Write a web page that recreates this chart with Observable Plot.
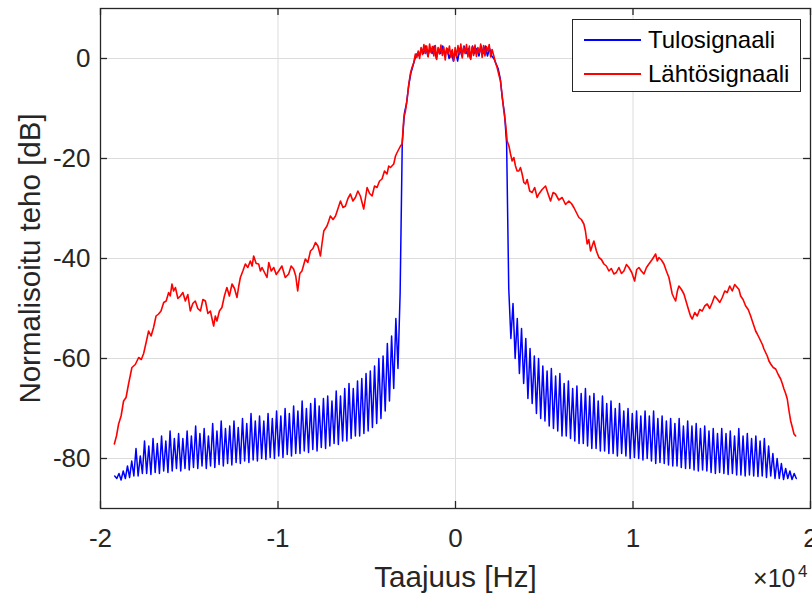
<!DOCTYPE html>
<html>
<head>
<meta charset="utf-8">
<script src="https://cdn.jsdelivr.net/npm/d3@7"></script>
<script src="https://cdn.jsdelivr.net/npm/@observablehq/plot@0.6"></script>
<style>
  body { margin: 0; background: #fff; font-family: "Liberation Sans", Arial, Helvetica, sans-serif; }
  #wrap { position: relative; width: 812px; height: 594px; overflow: hidden; background: #fff; }
  #legend { position: absolute; left: 572px; top: 19px; width: 227px; height: 71px; border: 1px solid #262626; background: #fff; }
  .lrow { position: absolute; left: 0; height: 30px; width: 100%; }
  .lline { position: absolute; left: 11px; width: 57px; top: 14px; height: 1.5px; }
  .ltext { position: absolute; left: 75px; top: 0; font-size: 24px; line-height: 30px; color: #000; white-space: nowrap; }
</style>
</head>
<body>
<div id="wrap"></div>
<script>
// ---------- DATA ----------
const seriesNames = ["Tulosignaali", "Lähtösignaali"];
const seriesColors = ["#0000ff", "#ff0000"];
const xLabel = "Taajuus [Hz]";
const yLabel = "Normalisoitu teho [dB]";
const xTicks = [-20000, -10000, 0, 10000, 20000];
const xTickLabels = ["-2", "-1", "0", "1", "2"];
const yTicks = [-80, -60, -40, -20, 0];
const yTickLabels = ["-80", "-60", "-40", "-20", "0"];
const xExponentBase = "\u00d710";
const xExponent = "4";

// Input signal (blue): FFT bins from -19200 Hz with 120 Hz spacing
const blueStartHz = -19200;
const blueStepHz = 120;
const blueDb = [
  -83.5,-84,-83,-84.3,-82.5,-84,-81.5,-83.8,-80.5,-83.5,
  -78,-83.5,-79.5,-83,-76.5,-83,-77.5,-83.2,-76,-82.8,
  -77,-83,-75.5,-82.5,-76.5,-82.8,-74.5,-82.5,-76,-82,
  -75,-82.5,-76,-82,-74.5,-82.3,-75.5,-81.8,-73.5,-82,
  -75,-81.5,-74,-82,-75.5,-81.5,-73,-81.8,-74.5,-81.2,
  -72.5,-81.5,-74,-81,-73.5,-81.3,-72.5,-80.8,-73.8,-81,
  -72,-80.5,-73,-80.8,-71,-80.3,-72.5,-80.5,-71.5,-80,
  -72.5,-80.2,-71,-79.8,-72,-80,-70.5,-79.5,-71.5,-79.8,
  -70,-79.2,-71,-79.5,-69.5,-79,-70.5,-79,-68.5,-78.5,
  -70,-78.8,-69,-78.2,-68,-78.5,-69.5,-77.8,-68,-78,
  -67.5,-77.5,-68.5,-77,-66.5,-77.2,-67.5,-76.5,-66,-76.5,
  -65,-76,-66,-75.5,-64.5,-75.5,-64,-75,-63,-74.5,
  -62.5,-73.8,-61.5,-73,-60,-72,-59.5,-70.5,-57,-68.5,
  -55.5,-66,-52,-62,-47,
  -17,-11,-9,-5.5,-3,-1.5,0,1,0.5,2,
  1,2.5,0.5,2,1,2.5,0,2,1,2.5,
  0.5,2,0,1.5,-0.5,1.5,-0.5,2,0.5,2.5,
  1,2,0,2.5,1,2,0.5,2.5,1,2.5,
  0.5,2,0.5,0,-1,-2,-4,-8,-11,-17,
  -46,-56,-49,-60,-52,-63,-54,-65,-56,-68,
  -58,-69,-59.5,-71,-60,-72,-61.5,-72.5,-62.5,-73.5,
  -62,-74,-63.5,-74.5,-63,-75.5,-65,-75.5,-64.5,-76,
  -66,-76.5,-65.5,-77,-67,-77,-66,-77.5,-67.5,-78,
  -67,-78,-68.5,-78.5,-67.5,-78.5,-69,-79,-68.5,-79,
  -70,-79.5,-69,-79,-70.5,-79.5,-70,-80,-71,-79.8,
  -70.5,-80,-71.5,-80.3,-70.5,-80,-71.5,-80.5,-70.5,-81,
  -72,-80.8,-71.5,-81,-72.5,-81.3,-72,-81.5,-73,-81.5,
  -72,-81.8,-73.5,-82,-72.5,-82,-73.5,-82.3,-73,-82.5,
  -74,-82.3,-73.5,-82.5,-74.5,-82.8,-74,-83,-75,-82.8,
  -74,-83,-75,-83.2,-74.5,-83,-75.5,-83.3,-74,-83.3,
  -75.5,-83.5,-75,-83.3,-76,-83.5,-75.5,-83.6,-76.5,-83.5,
  -76,-83.8,-77.5,-83.5,-79,-84,-80,-84,-81,-84.2,
  -82,-84,-82.5,-84.2,-83,-84
];

// Output signal (red): [frequency Hz, dB]
const redPoints = [
  [-19220,-77.1],[-19100,-75.5],[-18980,-73.1],[-18840,-71.5],[-18700,-68.5],[-18560,-67.8],
  [-18420,-65.1],[-18230,-61.8],[-18040,-61.2],[-17850,-59.8],[-17700,-60.2],[-17570,-59],
  [-17430,-56.8],[-17290,-54.5],[-17150,-55.5],[-17010,-53.8],[-16870,-51.5],[-16730,-51.1],
  [-16590,-50.5],[-16440,-48.8],[-16300,-48.5],[-16160,-46.8],[-16070,-47.5],[-15975,-45.1],
  [-15880,-46.5],[-15780,-45.8],[-15640,-48],[-15500,-47.5],[-15360,-46.8],[-15220,-48.5],
  [-15080,-47.2],[-14940,-50.5],[-14800,-49],[-14660,-48.5],[-14520,-50],[-14370,-50.5],
  [-14230,-48.2],[-14090,-48.5],[-13950,-51],[-13810,-50.5],[-13720,-52],[-13625,-53.5],
  [-13530,-51.5],[-13440,-52.5],[-13300,-50.5],[-13160,-49.8],[-13020,-47.5],[-12880,-45.8],
  [-12740,-47.5],[-12590,-45.1],[-12450,-46],[-12310,-47.8],[-12210,-45.5],[-12120,-43.8],
  [-11980,-42.5],[-11840,-41.1],[-11700,-41.8],[-11560,-40.5],[-11460,-41.5],[-11370,-39.5],
  [-11230,-41],[-11090,-41.1],[-10990,-42.5],[-10900,-41.8],[-10760,-42.8],[-10620,-43.8],
  [-10520,-40.8],[-10380,-42.5],[-10240,-41.8],[-10100,-43.2],[-9960,-42.5],[-9780,-41.5],
  [-9590,-43.8],[-9400,-43.1],[-9260,-41.5],[-9120,-42.1],[-9000,-43.5],[-8890,-46.5],
  [-8770,-43],[-8650,-42.5],[-8460,-40.1],[-8320,-40.8],[-8170,-38.5],[-8030,-38],
  [-7890,-36.8],[-7750,-37.5],[-7610,-39.5],[-7520,-37],[-7420,-34.5],[-7240,-33.5],
  [-7140,-32.5],[-7050,-31.5],[-6900,-32.2],[-6760,-31.5],[-6620,-30],[-6480,-28.5],
  [-6340,-29.8],[-6200,-29.5],[-6060,-28],[-5920,-27.1],[-5780,-28.5],[-5640,-27.8],
  [-5500,-26.5],[-5360,-27.5],[-5170,-30.1],[-4980,-25.8],[-4840,-27],[-4700,-27.5],
  [-4560,-25.5],[-4420,-25.8],[-4280,-24.5],[-4140,-24.1],[-4000,-22.5],[-3860,-23.1],
  [-3760,-21.5],[-3660,-21.8],[-3480,-21.1],[-3380,-19.5],[-3290,-18.8],[-3100,-17.5],
  [-3010,-17.1],[-2910,-11.8],[-2820,-10.5],[-2720,-8],[-2630,-5.1],[-2540,-3],
  [-2450,-1.8],[-2350,-0.8],[-2260,0.9],[-2180,0.2],[-2100,1.5],[-2020,0],
  [-1940,2.2],[-1860,0.8],[-1780,2.8],[-1700,1],[-1620,2.5],[-1540,0.3],
  [-1460,2.9],[-1380,1.2],[-1300,2.4],[-1220,0.5],[-1140,2.6],[-1060,-0.2],
  [-980,2.2],[-900,0.9],[-820,2.7],[-740,0.6],[-660,2.3],[-580,-0.3],
  [-500,2.1],[-420,1],[-340,2.5],[-260,0.2],[-180,1.8],[-100,-0.5],
  [-20,2.2],[60,0.4],[140,2.6],[220,0.8],[300,2.9],[380,0.1],
  [460,2.4],[540,1],[620,2.8],[700,0.3],[780,2.5],[860,-0.2],
  [940,2.3],[1020,0.6],[1100,2.7],[1180,0.4],[1260,2.2],[1340,1.1],
  [1420,2.9],[1500,0.2],[1580,2.6],[1660,0.5],[1740,2.4],[1820,1.5],
  [1900,2.8],[1980,0.3],[2060,1.8],[2160,0.5],[2250,-0.8],[2345,-1.8],
  [2440,-3.2],[2537,-4.5],[2630,-7.5],[2723,-10.5],[2820,-13],[2909,-16.5],
  [3010,-17.5],[3100,-19.1],[3191,-20.5],[3286,-19.8],[3380,-21.5],[3472,-22.5],
  [3568,-22.5],[3660,-21.8],[3754,-23.1],[3850,-24.8],[3946,-25.1],[4036,-24.2],
  [4180,-26.5],[4318,-26.8],[4460,-25.8],[4600,-27.8],[4696,-27.1],[4880,-26.2],
  [5073,-25.5],[5210,-27],[5355,-28.5],[5500,-26.8],[5637,-27.1],[5820,-28.3],
  [6009,-27.8],[6200,-29.2],[6387,-28.5],[6530,-29],[6669,-29.8],[6810,-30.8],
  [6950,-31.8],[7090,-32.2],[7232,-33.1],[7320,-34.5],[7418,-37.1],[7510,-36.2],
  [7610,-38.5],[7700,-37.5],[7796,-36.5],[7940,-38.5],[8078,-39.8],[8220,-40.2],
  [8360,-41.1],[8500,-41.5],[8642,-42.5],[8780,-42],[8923,-43.1],[9060,-42.8],
  [9205,-41.8],[9350,-43],[9487,-42.5],[9630,-41.2],[9769,-41.8],[9930,-42.8],
  [10090,-44.5],[10210,-42.2],[10333,-41.8],[10470,-42.5],[10615,-43.1],[10760,-41.8],
  [10896,-41.1],[11080,-40.2],[11274,-39.1],[11370,-40.5],[11460,-39.8],[11600,-40.3],
  [11742,-41.1],[11880,-42.5],[12024,-43.8],[12120,-45.5],[12210,-47.1],[12300,-47.8],
  [12401,-48.5],[12500,-46.5],[12587,-45.5],[12730,-46.2],[12869,-47.1],[13010,-48.8],
  [13151,-50.5],[13240,-51.5],[13337,-52.1],[13480,-50.8],[13619,-51.5],[13760,-50.2],
  [13901,-50.5],[14040,-49.5],[14183,-49.1],[14320,-50],[14465,-48.8],[14600,-47.5],
  [14746,-48.1],[14890,-48.8],[15028,-47.8],[15170,-46.5],[15310,-46.8],[15450,-45.5],
  [15592,-46.5],[15730,-45.2],[15874,-45.8],[15970,-46.2],[16065,-47.5],[16200,-48.2],
  [16347,-49.5],[16490,-50.2],[16629,-51.5],[16720,-52.5],[16815,-53.5],[16910,-54.5],
  [17001,-55.1],[17100,-55.8],[17193,-56.5],[17290,-57.2],[17379,-58.1],[17470,-58.8],
  [17565,-59.5],[17660,-60.5],[17757,-61.1],[17900,-61.8],[18038,-62.1],[18180,-63.2],
  [18320,-64.1],[18410,-65],[18506,-66.1],[18600,-67],[18692,-68.1],[18790,-70.5],
  [18884,-72.5],[18980,-73.8],[19070,-75.1],[19166,-75.5]
];

// ---------- BUILD ----------
const blueData = blueDb.map((db, i) => ({f: blueStartHz + i * blueStepHz, db}));
const redData = redPoints.map(([f, db]) => ({f, db}));
const xLab = new Map(xTicks.map((t, i) => [t, xTickLabels[i]]));
const yLab = new Map(yTicks.map((t, i) => [t, yTickLabels[i]]));

const W = 812, H = 594, mL = 100, mR = 2, mT = 8, mB = 86;
const plotW = W - mL - mR, plotH = H - mT - mB;
const ink = "#262626";
const font = '"Liberation Sans", Arial, Helvetica, sans-serif';

const chart = Plot.plot({
  width: W, height: H,
  marginLeft: mL, marginRight: mR, marginTop: mT, marginBottom: mB,
  style: {fontFamily: font, color: ink, background: "#fff", overflow: "visible"},
  x: {domain: [-20000, 20000]},
  y: {domain: [-90, 10]},
  marks: [
    Plot.gridX(xTicks, {stroke: "#dcdcdc", strokeOpacity: 1, strokeWidth: 1}),
    Plot.gridY(yTicks, {stroke: "#dcdcdc", strokeOpacity: 1, strokeWidth: 1}),
    Plot.line(blueData, {x: "f", y: "db", stroke: seriesColors[0], strokeWidth: 1.5}),
    Plot.line(redData, {x: "f", y: "db", stroke: seriesColors[1], strokeWidth: 1.6}),
    Plot.frame({stroke: ink, strokeWidth: 1.3}),
    Plot.ruleX(xTicks, {x: d => d, insetTop: plotH - 7, stroke: ink, strokeWidth: 1.3}),
    Plot.ruleX(xTicks, {x: d => d, insetBottom: plotH - 7, stroke: ink, strokeWidth: 1.3}),
    Plot.ruleY(yTicks, {y: d => d, insetRight: plotW - 7, stroke: ink, strokeWidth: 1.3}),
    Plot.ruleY(yTicks, {y: d => d, insetLeft: plotW - 7, stroke: ink, strokeWidth: 1.3}),
    Plot.axisX(xTicks, {tickSize: 0, tickPadding: 20, fontSize: 26, tickFormat: d => xLab.get(d), label: null, fill: ink}),
    Plot.axisY(yTicks, {tickSize: 0, tickPadding: 10, fontSize: 26, tickFormat: d => yLab.get(d), label: null, fill: ink}),
    Plot.text([xLabel], {frameAnchor: "bottom", dy: 69, fontSize: 29.5, textAnchor: "middle", lineAnchor: "middle", fill: ink}),
    Plot.text([yLabel], {frameAnchor: "left", dx: -70, rotate: -90, fontSize: 29.5, textAnchor: "middle", lineAnchor: "middle", fill: ink}),
    Plot.text([xExponentBase], {frameAnchor: "bottom-right", dx: -15, dy: 70, fontSize: 25, textAnchor: "end", lineAnchor: "middle", fill: ink}),
    Plot.text([xExponent], {frameAnchor: "bottom-right", dx: -3, dy: 63, fontSize: 17, textAnchor: "end", lineAnchor: "middle", fill: ink})
  ]
});

const wrap = document.getElementById("wrap");
wrap.appendChild(chart);

// Legend
const legend = document.createElement("div");
legend.id = "legend";
seriesNames.forEach((name, i) => {
  const row = document.createElement("div");
  row.className = "lrow";
  row.style.top = (5 + i * 34) + "px";
  const ln = document.createElement("div");
  ln.className = "lline";
  ln.style.background = seriesColors[i];
  const tx = document.createElement("div");
  tx.className = "ltext";
  tx.textContent = name;
  row.appendChild(ln); row.appendChild(tx);
  legend.appendChild(row);
});
wrap.appendChild(legend);
</script>
</body>
</html>
